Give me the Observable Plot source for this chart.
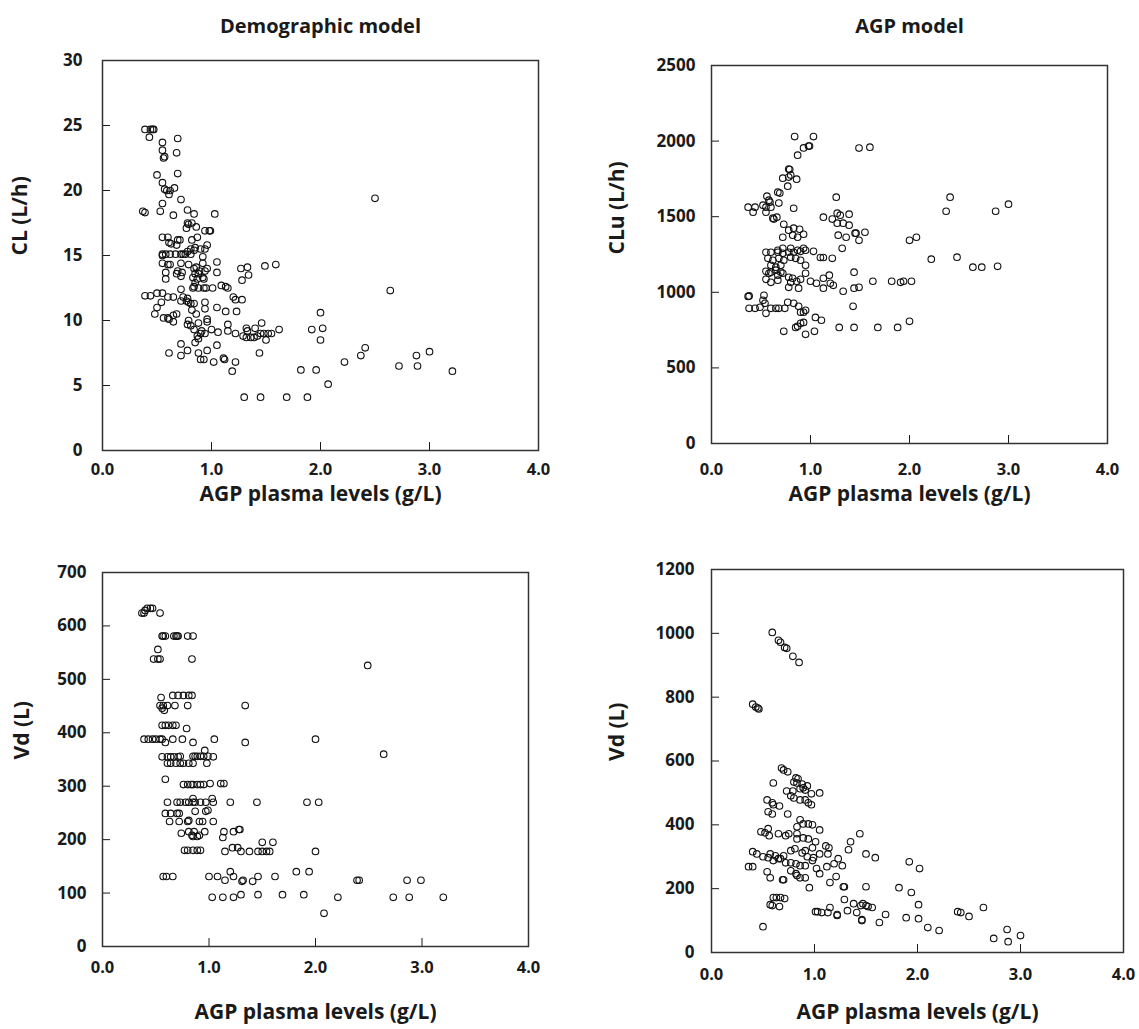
<!DOCTYPE html>
<html><head><meta charset="utf-8">
<script src="https://cdn.jsdelivr.net/npm/d3@7"></script>
<script src="https://cdn.jsdelivr.net/npm/@observablehq/plot@0.6"></script>
<style>
body{margin:0;background:#fff}
#wrap{position:relative;width:1139px;height:1029px;overflow:hidden;background:#fff}
#wrap svg{position:absolute;left:0;top:0}
</style></head><body><div id="wrap"></div>
<script>
const xTicks = [0, 1, 2, 3, 4];
const titles = ["Demographic model", "AGP model"];
const xLabel = "AGP plasma levels (g/L)";

// Panel A: CL (L/h) vs AGP
const clPoints = [[0.39,24.7],[0.44,24.7],[0.46,24.7],[0.47,24.7],[0.43,24.1],[0.55,23.7],[0.69,24.0],[0.55,23.1],[0.56,22.5],[0.57,22.6],[0.68,22.9],[0.50,21.2],[0.69,21.3],[0.55,20.6],[0.57,20.1],[0.59,20.0],[0.61,19.7],[0.62,20.0],[0.66,20.2],[0.72,19.3],[0.55,19.0],[0.37,18.4],[0.39,18.3],[0.53,18.4],[0.65,18.1],[0.78,18.5],[0.84,18.2],[1.03,18.2],[0.78,17.5],[0.79,17.4],[0.82,17.5],[0.77,17.1],[0.86,17.2],[0.94,16.9],[0.98,16.9],[0.99,16.9],[0.87,16.4],[0.55,16.4],[0.60,16.4],[0.82,16.2],[0.96,15.8],[0.94,15.5],[0.61,16.0],[0.63,15.9],[0.69,16.2],[0.71,16.2],[0.68,15.8],[0.85,15.6],[0.81,15.5],[0.78,15.3],[0.55,15.1],[0.58,15.1],[0.62,15.1],[0.67,15.1],[0.72,15.1],[0.76,15.1],[0.81,15.1],[1.05,14.5],[0.55,15.0],[0.74,15.1],[0.84,15.4],[0.90,15.5],[0.55,14.4],[0.60,14.3],[0.62,14.3],[0.72,14.4],[0.79,14.3],[0.92,14.9],[0.92,14.4],[1.05,13.7],[0.58,13.7],[0.69,13.8],[0.73,13.7],[0.68,13.6],[0.84,14.0],[0.86,14.1],[0.88,13.6],[0.85,13.6],[0.89,13.8],[0.94,13.8],[0.96,14.0],[0.92,13.3],[0.93,13.2],[0.87,13.2],[0.83,13.3],[0.85,12.9],[0.58,13.2],[0.72,13.4],[1.27,14.0],[1.33,14.1],[1.34,13.5],[1.28,13.1],[1.49,14.2],[1.59,14.3],[0.83,12.5],[0.84,12.6],[0.88,12.5],[0.93,12.5],[0.95,12.5],[1.01,12.5],[1.09,12.7],[1.13,12.6],[1.15,12.5],[0.72,12.4],[0.39,11.9],[0.44,11.9],[0.50,12.1],[0.55,12.1],[0.60,11.8],[0.65,11.8],[0.54,11.4],[0.50,11.0],[0.48,10.5],[0.72,11.5],[0.77,11.5],[0.79,11.4],[0.81,11.3],[0.84,11.3],[0.78,11.7],[0.74,11.8],[0.94,11.4],[0.94,10.9],[0.82,10.8],[0.86,10.5],[1.05,11.0],[1.13,10.7],[1.20,11.8],[1.22,11.6],[1.28,11.6],[1.23,10.7],[0.56,10.2],[0.60,10.2],[0.61,10.1],[0.65,9.9],[0.65,10.4],[0.68,10.5],[0.79,10.0],[0.78,9.7],[0.81,9.6],[0.88,9.8],[0.96,10.1],[0.96,9.9],[0.84,9.3],[0.91,9.2],[0.90,9.0],[0.87,8.8],[0.88,8.6],[0.85,8.3],[0.94,9.0],[1.00,9.3],[1.06,9.1],[1.15,9.7],[1.15,9.2],[1.22,9.0],[1.32,9.4],[1.33,9.2],[1.29,8.8],[1.32,8.7],[1.36,8.7],[1.40,9.4],[1.42,8.8],[1.45,9.0],[1.46,9.8],[1.48,9.0],[1.50,8.5],[1.52,9.0],[1.55,9.0],[1.62,9.3],[1.39,8.7],[1.05,8.1],[0.72,8.2],[0.78,7.7],[0.72,7.3],[0.61,7.5],[0.88,7.5],[0.90,7.0],[0.93,7.0],[0.96,7.7],[1.02,6.8],[1.11,7.1],[1.12,7.0],[1.22,6.8],[1.19,6.1],[1.44,7.5],[2.00,10.6],[1.92,9.3],[2.02,9.4],[2.00,8.5],[1.82,6.2],[1.96,6.2],[2.07,5.1],[2.22,6.8],[2.37,7.3],[1.30,4.1],[1.45,4.1],[1.69,4.1],[1.88,4.1],[2.50,19.4],[2.64,12.3],[2.41,7.9],[2.72,6.5],[2.88,7.3],[2.89,6.5],[3.00,7.6],[3.21,6.1]];
const clTicks = [0, 5, 10, 15, 20, 25, 30];

// Panel B: CLu (L/h) vs AGP
const cluPoints = [[0.84,2030],[1.03,2030],[0.93,1955],[0.98,1967],[0.99,1967],[0.87,1907],[1.49,1954],[1.60,1960],[0.78,1815],[0.79,1812],[0.72,1755],[0.78,1762],[0.80,1775],[0.86,1748],[0.77,1702],[0.67,1662],[0.69,1656],[0.56,1636],[0.58,1609],[0.59,1596],[0.55,1563],[0.52,1576],[0.44,1563],[0.37,1563],[0.42,1530],[0.55,1530],[0.60,1563],[0.68,1590],[0.83,1556],[1.26,1629],[0.62,1490],[0.66,1497],[0.63,1484],[0.73,1450],[1.13,1497],[1.22,1484],[1.27,1523],[1.30,1510],[1.39,1517],[1.27,1457],[1.33,1457],[1.39,1444],[0.78,1411],[0.83,1424],[0.89,1417],[0.82,1378],[0.87,1364],[0.93,1384],[0.72,1364],[1.28,1378],[1.36,1364],[1.45,1391],[1.46,1391],[1.55,1397],[1.49,1344],[1.32,1291],[2.00,1344],[2.07,1364],[0.55,1265],[0.60,1265],[0.67,1265],[0.72,1258],[0.78,1265],[0.83,1265],[0.90,1271],[0.95,1278],[1.03,1271],[1.10,1230],[1.13,1230],[1.22,1225],[0.67,1278],[0.72,1291],[0.80,1291],[0.87,1278],[0.93,1291],[0.57,1225],[0.62,1212],[0.68,1225],[0.73,1212],[0.80,1232],[0.85,1225],[0.90,1212],[0.95,1179],[0.60,1179],[0.65,1166],[0.70,1179],[0.55,1139],[0.60,1133],[0.65,1146],[0.70,1133],[0.58,1126],[0.67,1113],[0.72,1126],[0.78,1099],[0.82,1093],[0.80,1066],[0.86,1073],[0.90,1086],[0.78,1033],[0.88,1027],[0.95,1126],[0.55,1086],[0.60,1066],[0.67,1080],[1.00,1073],[1.06,1060],[1.13,1093],[1.19,1113],[1.20,1060],[1.23,1046],[1.13,1027],[1.44,1133],[1.33,1007],[1.44,1027],[1.49,1033],[1.63,1073],[1.82,1073],[1.91,1066],[1.94,1073],[2.02,1073],[0.37,973],[0.38,976],[0.53,980],[0.52,947],[0.54,927],[0.38,894],[0.44,894],[0.49,901],[0.55,861],[0.60,894],[0.65,894],[0.68,894],[0.74,894],[0.77,934],[0.83,927],[0.88,907],[0.90,868],[0.95,881],[0.93,868],[1.43,907],[1.05,834],[1.11,815],[0.73,742],[0.85,768],[0.87,775],[0.90,795],[0.93,801],[0.95,722],[1.04,742],[1.29,768],[1.44,768],[1.68,768],[1.88,768],[2.00,808],[2.41,1629],[2.37,1536],[2.87,1536],[3.00,1583],[2.22,1219],[2.48,1232],[2.64,1166],[2.73,1166],[2.89,1172]];
const cluTicks = [0, 500, 1000, 1500, 2000, 2500];

// Panel C: Vd (L), demographic model
const vdDemoPoints = [[0.37,624],[0.39,624],[0.40,629],[0.42,633],[0.45,633],[0.47,633],[0.54,624],[0.56,581],[0.57,581],[0.59,581],[0.67,581],[0.69,581],[0.70,581],[0.71,581],[0.80,581],[0.85,581],[0.52,556],[0.48,538],[0.52,538],[0.54,538],[0.84,538],[0.55,466],[0.66,470],[0.71,470],[0.76,470],[0.81,470],[0.84,470],[0.54,451],[0.57,451],[0.61,451],[0.58,442],[0.56,446],[0.68,451],[0.80,451],[1.34,451],[0.56,414],[0.59,414],[0.62,414],[0.66,414],[0.69,414],[0.79,408],[0.39,388],[0.43,388],[0.47,388],[0.50,388],[0.54,388],[0.56,388],[0.59,382],[0.66,388],[0.75,388],[0.85,382],[1.05,388],[1.34,382],[2.00,388],[0.96,367],[0.56,355],[0.61,355],[0.64,355],[0.67,355],[0.71,355],[0.73,356],[0.85,356],[0.87,356],[0.89,356],[0.92,356],[0.95,356],[0.99,356],[1.04,355],[0.61,343],[0.64,343],[0.69,343],[0.73,343],[0.76,343],[0.81,343],[0.85,343],[0.98,343],[0.59,313],[0.76,303],[0.80,303],[0.83,303],[0.85,303],[0.89,303],[0.92,303],[0.95,303],[1.01,305],[1.11,305],[1.14,305],[0.61,270],[0.70,270],[0.73,270],[0.78,270],[0.81,270],[0.85,270],[0.87,270],[0.92,270],[0.97,270],[1.04,270],[1.03,277],[0.85,277],[1.20,270],[1.45,270],[1.92,270],[2.03,270],[0.59,249],[0.64,249],[0.70,249],[0.72,249],[0.87,253],[0.97,253],[0.99,255],[0.63,234],[0.72,234],[0.80,234],[0.81,236],[0.91,234],[0.94,234],[1.04,234],[0.74,212],[0.81,215],[0.86,215],[0.84,208],[0.85,206],[0.89,206],[0.91,208],[0.96,215],[1.14,215],[1.13,204],[1.23,215],[1.28,219],[1.29,219],[1.50,195],[1.60,195],[0.77,180],[0.80,180],[0.85,180],[0.89,180],[0.92,180],[1.15,178],[1.22,185],[1.27,185],[1.30,178],[1.38,178],[1.46,178],[1.50,178],[1.54,178],[1.57,178],[2.00,178],[0.57,131],[0.60,131],[0.66,131],[1.00,131],[1.08,131],[1.15,124],[1.20,140],[1.23,131],[1.31,122],[1.32,124],[1.41,122],[1.46,131],[1.62,131],[1.82,140],[1.94,140],[2.39,124],[2.41,124],[1.03,92],[1.13,92],[1.23,92],[1.30,97],[1.46,97],[1.69,97],[1.89,97],[2.21,92],[2.08,62],[2.49,526],[2.64,360],[2.86,124],[2.99,124],[2.73,92],[2.88,92],[3.20,92]];
const vdDemoTicks = [0, 100, 200, 300, 400, 500, 600, 700];

// Panel D: Vd (L), AGP model
const vdAgpPoints = [[0.59,1003],[0.65,978],[0.67,972],[0.71,956],[0.73,953],[0.79,928],[0.85,909],[0.40,778],[0.43,769],[0.46,763],[0.45,766],[0.68,578],[0.70,572],[0.74,566],[0.60,531],[0.82,547],[0.84,544],[0.83,531],[0.88,528],[0.89,516],[0.93,522],[0.86,513],[0.91,509],[0.80,534],[0.79,506],[0.73,506],[0.97,497],[1.05,500],[0.77,491],[0.80,484],[0.86,478],[0.91,478],[0.94,469],[0.97,463],[0.54,478],[0.59,469],[0.60,463],[0.66,459],[0.55,441],[0.59,434],[0.74,434],[0.86,416],[0.89,403],[0.94,403],[0.98,400],[1.05,384],[0.83,394],[0.48,378],[0.52,375],[0.55,388],[0.56,366],[0.65,372],[0.72,366],[0.75,372],[0.83,372],[0.83,356],[0.89,359],[0.94,356],[1.44,372],[1.35,347],[1.33,322],[1.50,309],[1.59,297],[1.01,347],[1.11,334],[1.14,328],[1.05,309],[1.13,309],[0.98,328],[0.40,316],[0.44,309],[0.50,300],[0.57,309],[0.62,303],[0.65,294],[0.70,303],[0.77,319],[0.81,325],[0.88,312],[0.91,319],[0.93,300],[0.98,288],[0.99,297],[0.55,297],[0.60,288],[0.67,294],[0.72,281],[0.77,281],[0.82,278],[0.86,272],[0.91,272],[0.36,269],[0.40,269],[0.54,253],[0.57,234],[0.69,228],[0.70,228],[0.77,256],[0.82,247],[0.86,234],[0.91,234],[0.83,241],[1.02,263],[1.05,247],[1.12,269],[1.19,278],[1.23,294],[1.27,272],[1.15,219],[1.21,238],[0.95,203],[1.28,206],[1.29,206],[1.50,206],[1.82,203],[1.94,188],[1.92,284],[2.02,263],[0.60,172],[0.63,172],[0.67,172],[0.71,169],[0.57,150],[0.66,144],[0.59,147],[0.50,81],[1.01,128],[1.03,128],[1.07,125],[1.13,125],[1.15,141],[1.22,119],[1.22,116],[1.29,166],[1.32,131],[1.38,153],[1.41,125],[1.45,147],[1.47,153],[1.50,147],[1.52,144],[1.56,141],[1.46,103],[1.46,100],[1.69,119],[1.63,94],[1.89,109],[2.01,150],[2.01,106],[2.10,78],[2.21,69],[2.39,128],[2.42,125],[2.50,113],[2.64,141],[2.74,44],[2.87,72],[2.88,34],[3.00,53]];
const vdAgpTicks = [0, 200, 400, 600, 800, 1000, 1200];

const W = 1139, H = 1029;
const FONT = "'Open Sans', Lato, sans-serif";

function panel(cfg) {
  const data = cfg.points.map(([x, y]) => ({x, y}));
  const marks = [
    Plot.axisX({ticks: xTicks, tickFormat: d3.format(".1f"), tickSize: -8, tickPadding: cfg.xPad, fontSize: 16.5, label: null}),
    Plot.axisY({ticks: cfg.yTicks, tickFormat: d => String(d), tickSize: -8, tickPadding: cfg.yPad, fontSize: 17, label: null}),
    Plot.frame({stroke: "#333", strokeWidth: 1.5}),
    Plot.dot(data, {x: "x", y: "y", r: 3.3, stroke: "#111", strokeWidth: 1.1, fill: "none"}),
    Plot.text([xLabel], {text: d => d, frameAnchor: "bottom", dy: cfg.xLabelDy, fontSize: 21}),
    Plot.text([cfg.yLabel], {text: d => d, frameAnchor: "left", dx: cfg.yLabelDx, rotate: -90, fontSize: 21})
  ];
  if (cfg.title) marks.push(Plot.text([cfg.title], {text: d => d, frameAnchor: "top", dy: cfg.titleDy, fontSize: 20}));
  return Plot.plot({
    width: W, height: H,
    marginLeft: cfg.L, marginTop: cfg.T, marginRight: W - cfg.R, marginBottom: H - cfg.B,
    x: {domain: [0, 4]},
    y: {domain: cfg.yDomain},
    style: {fontFamily: FONT, fontWeight: "bold", color: "#1a1a1a", background: "transparent", overflow: "visible"},
    marks
  });
}

const wrap = document.getElementById("wrap");
const panels = [
  {points: clPoints, yTicks: clTicks, yDomain: [0, 30], yLabel: "CL (L/h)", title: titles[0],
   L: 102, T: 60, R: 538, B: 450, xPad: 21, yPad: 28, xLabelDy: 50, yLabelDx: -82, titleDy: -42},
  {points: cluPoints, yTicks: cluTicks, yDomain: [0, 2500], yLabel: "CLu (L/h)", title: titles[1],
   L: 711, T: 65, R: 1107, B: 443, xPad: 28, yPad: 24, xLabelDy: 57, yLabelDx: -94, titleDy: -47},
  {points: vdDemoPoints, yTicks: vdDemoTicks, yDomain: [0, 700], yLabel: "Vd (L)",
   L: 102, T: 572, R: 528, B: 946, xPad: 23, yPad: 24, xLabelDy: 72, yLabelDx: -80},
  {points: vdAgpPoints, yTicks: vdAgpTicks, yDomain: [0, 1200], yLabel: "Vd (L)",
   L: 711, T: 569, R: 1123, B: 952, xPad: 24, yPad: 25, xLabelDy: 66, yLabelDx: -94}
];
for (const p of panels) wrap.appendChild(panel(p));
</script></body></html>
